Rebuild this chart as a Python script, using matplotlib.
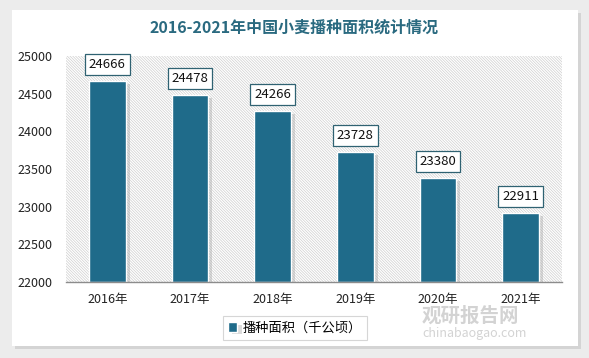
import matplotlib
matplotlib.use("Agg")
import matplotlib.pyplot as plt
import matplotlib.patheffects as pe
from matplotlib.patches import Rectangle

plt.rcParams['font.family'] = ['Noto Sans CJK SC', 'DejaVu Sans']
plt.rcParams['hatch.linewidth'] = 0.5
plt.rcParams['hatch.color'] = '#cfcfcf'

years = ["2016年", "2017年", "2018年", "2019年", "2020年", "2021年"]
area = [24666, 24478, 24266, 23728, 23380, 22911]

bar_color = "#1f6b8a"
title_color = "#2a6a80"

fig = plt.figure(figsize=(5.89, 3.58), dpi=100)
fig.patch.set_facecolor("#ececec")

# white card with soft shadow
card = Rectangle((12 / 589, 12 / 358), 566 / 589, 336 / 358, transform=fig.transFigure,
                 facecolor="white", edgecolor="none", zorder=-10,
                 path_effects=[pe.SimplePatchShadow(offset=(2, -2), shadow_rgbFace="#bdbdbd", alpha=0.5), pe.Normal()])
fig.patches.append(card)

ax = fig.add_axes([66 / 589, 1 - 282 / 358, 496 / 589, 226 / 358])
ax.set_facecolor("none")
ax.add_patch(Rectangle((0, 0), 1, 1, transform=ax.transAxes, facecolor="white",
                       hatch="\\" * 12, edgecolor="#cfcfcf", linewidth=0, zorder=0))

x = list(range(len(years)))
bars = ax.bar(x, [v - 22000 for v in area], bottom=22000, width=0.44, color=bar_color,
              edgecolor="white", linewidth=1.0, zorder=3)
for b in bars:
    b.set_path_effects([pe.SimplePatchShadow(offset=(3, -2), shadow_rgbFace="#9a9a9a", alpha=0.35), pe.Normal()])

for xi, v in zip(x, area):
    ax.annotate(str(v), (xi, v), xytext=(0, 12), textcoords="offset points",
                ha="center", va="center", fontsize=9.5, color="#111111", zorder=5,
                bbox=dict(boxstyle="square,pad=0.3", facecolor="white", edgecolor="#2f6272", linewidth=0.9))

ax.set_ylim(22000, 25000)
ax.set_xlim(-0.5, len(years) - 0.5)
ax.set_yticks(range(22000, 25001, 500))
ax.set_xticks(x)
ax.set_xticklabels(years)
ax.tick_params(axis="both", length=0, labelsize=9, colors="#222222")
ax.tick_params(axis="x", pad=8)
ax.tick_params(axis="y", pad=10)
for side in ("top", "right", "left"):
    ax.spines[side].set_visible(False)
ax.spines["bottom"].set_color("#8c8c8c")
ax.spines["bottom"].set_linewidth(1.0)
ax.spines["bottom"].set_zorder(4)

fig.text(0.5, 1 - 28 / 358, "2016-2021年中国小麦播种面积统计情况", ha="center", va="center",
         fontsize=11.5, fontweight="bold", color=title_color)

leg = ax.legend([bars[0]], ["播种面积（千公顷）"], loc="center", bbox_to_anchor=(295 / 589, 1 - 328 / 358),
                bbox_transform=fig.transFigure, frameon=True, fancybox=False, fontsize=9.5,
                handlelength=0.7, handleheight=0.7, handletextpad=0.4, borderpad=0.4)
leg.get_frame().set_edgecolor("#cccccc")
leg.get_frame().set_linewidth(0.8)

# watermark
fig.text(470 / 589, 1 - 316 / 358, "观研报告网", ha="center", va="center", fontsize=14,
         fontweight="bold", color="#c8c8c8", alpha=0.8, zorder=6)
fig.text(475 / 589, 1 - 333 / 358, "chinabaogao.com", ha="center", va="center", fontsize=9,
         color="#c8c8c8", alpha=0.8, zorder=6)

fig.savefig("out.png", dpi=100, facecolor=fig.get_facecolor())
